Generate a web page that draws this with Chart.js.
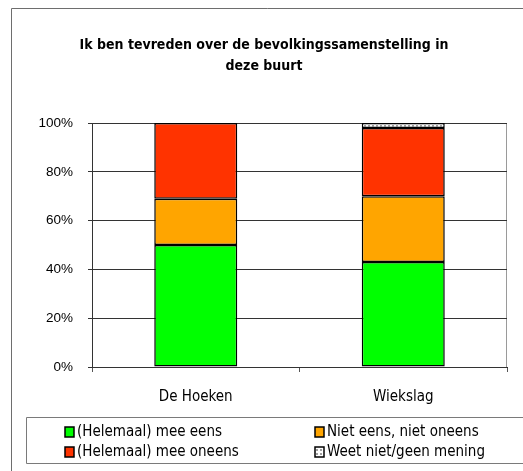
<!DOCTYPE html>
<html>
	<head>
		<meta http-equiv="content-type" content="text/html; charset=UTF-8">
		<script src="https://cdn.jsdelivr.net/npm/chart.js@4.4.0/dist/chart.umd.min.js"></script>
		<style>
			html, body { margin: 0; padding: 0; background: #fff; }
			#wrap { width: 523px; height: 471px; }
		</style>
	</head>
	<body>
		<div id="wrap"><canvas id="bar-chart" width="523" height="471"></canvas></div>
		<script type="text/javascript">
			// chart data
			var titleLines = ['Ik ben tevreden over de bevolkingssamenstelling in', 'deze buurt'];
			var areas = ['De Hoeken', 'Wiekslag'];
			var seriesNames = ['(Helemaal) mee eens', 'Niet eens, niet oneens', '(Helemaal) mee oneens', 'Weet niet/geen mening'];
			var meeEens = [50, 43];
			var neutraal = [19, 27];
			var meeOneens = [31, 28];
			var weetNiet = [0, 2];
			var yTicks = [0, 20, 40, 60, 80, 100];

			var labelFont = '"DejaVu Sans Condensed", "DejaVu Sans", sans-serif';
			var tickFont = '"Liberation Sans Narrow", "Liberation Sans", Arial, sans-serif';

			// dotted fill for the "weet niet" part
			var pc = document.createElement('canvas');
			pc.width = 4; pc.height = 4;
			var pctx = pc.getContext('2d');
			pctx.fillStyle = '#fff';
			pctx.fillRect(0, 0, 4, 4);
			pctx.fillStyle = '#a0a0a0';
			pctx.fillRect(0, 1, 2, 2);
			var dotted = pctx.createPattern(pc, 'repeat');

			var colors = ['#00ff00', '#ffa500', '#ff3300', dotted];
			var values = [meeEens, neutraal, meeOneens, weetNiet];

			var datasets = [];
			for (var i = 0; i < seriesNames.length; i++) {
				datasets.push({
					label: seriesNames[i],
					data: values[i],
					backgroundColor: colors[i],
					borderColor: '#000',
					borderWidth: 1.5,
					borderSkipped: false,
					barPercentage: 0.4,
					categoryPercentage: 1
				});
			}

			// frame, title, plot border and legend drawn by hand
			var decor = {
				id: 'decor',
				beforeDraw: function(chart) {
					var c = chart.ctx;
					c.save();
					c.fillStyle = '#fff';
					c.fillRect(0, 0, chart.width, chart.height);
					c.strokeStyle = '#6e6e6e';
					c.lineWidth = 1;
					c.beginPath();
					c.moveTo(11.5, chart.height);
					c.lineTo(11.5, 8.5);
					c.lineTo(chart.width, 8.5);
					c.stroke();
					var a = chart.chartArea;
					c.strokeStyle = '#9a9a9a';
					c.beginPath();
					c.moveTo(a.right - 0.5, a.top);
					c.lineTo(a.right - 0.5, a.bottom);
					c.stroke();
					c.restore();
				},
				afterDraw: function(chart) {
					var c = chart.ctx;
					c.save();
					c.fillStyle = '#000';
					c.textAlign = 'center';
					c.textBaseline = 'middle';
					c.font = 'bold 14px ' + labelFont;
					c.fillText(titleLines[0], 264, 45);
					c.fillText(titleLines[1], 264, 66);

					// legend box
					c.strokeStyle = '#7a7a7a';
					c.lineWidth = 1;
					c.beginPath();
					c.moveTo(chart.width, 417.5);
					c.lineTo(26.5, 417.5);
					c.lineTo(26.5, 463.5);
					c.lineTo(chart.width, 463.5);
					c.stroke();

					var xs = [65, 315, 65, 315];
					var ys = [432, 432, 452, 452];
					c.font = '15px ' + labelFont;
					c.textAlign = 'left';
					chart.data.datasets.forEach(function(ds, k) {
						c.fillStyle = ds.backgroundColor;
						c.fillRect(xs[k], ys[k] - 5, 9, 10);
						c.strokeStyle = '#000';
						c.lineWidth = 1.5;
						c.strokeRect(xs[k], ys[k] - 5, 9, 10);
						c.fillStyle = '#000';
						c.fillText(ds.label, xs[k] + 12, ys[k]);
					});
					c.restore();
				}
			};

			var ctx = document.getElementById('bar-chart');
			var barChart = new Chart(ctx, {
				type: 'bar',
				data: { labels: areas, datasets: datasets },
				options: {
					responsive: false,
					animation: false,
					layout: { padding: { left: 0, right: 16, top: 123, bottom: 59 } },
					plugins: {
						legend: { display: false },
						title: { display: false },
						tooltip: { enabled: false }
					},
					scales: {
						x: {
							stacked: true,
							grid: { offset: true, drawOnChartArea: false, drawTicks: true, tickLength: 5, color: '#555' },
							border: { color: '#333', width: 1 },
							ticks: { color: '#000', padding: 16, font: { family: labelFont, size: 15 } },
							afterFit: function(s) { s.height = 45; }
						},
						y: {
							stacked: true,
							min: 0,
							max: 100,
							afterBuildTicks: function(s) { s.ticks = yTicks.map(function(v) { return { value: v }; }); },
							grid: { color: '#333', tickLength: 4 },
							border: { color: '#333', width: 1 },
							ticks: {
								color: '#000',
								padding: 15,
								font: { family: tickFont, size: 13.5 },
								callback: function(v) { return v + '%'; }
							},
							afterFit: function(s) { s.width = 92; }
						}
					}
				},
				plugins: [decor]
			});
		</script>
	</body>
</html>
